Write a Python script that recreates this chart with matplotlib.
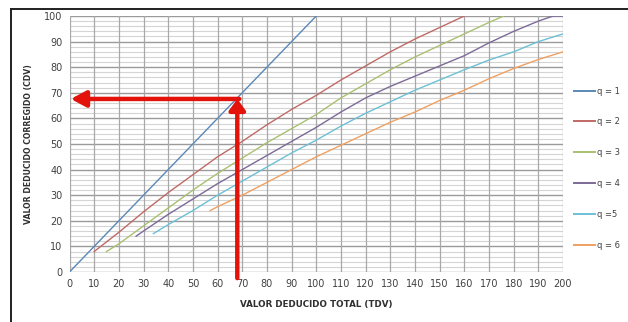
import matplotlib
matplotlib.use("Agg")
import matplotlib.pyplot as plt
from matplotlib.patches import FancyArrowPatch
from matplotlib.lines import Line2D
import numpy as np

# ---- data ----
q1_x = [0, 100]
q1_y = [0, 100]
q2_x = [10, 20, 30, 40, 50, 60, 70, 80, 90, 100, 110, 120, 130, 140, 150, 160]
q2_y = [8, 15.5, 23.5, 31, 38, 45, 51, 57.5, 63.5, 69, 75, 80.5, 86, 91, 95.5, 100]
q3_x = [15, 20, 30, 40, 50, 60, 70, 80, 90, 100, 110, 120, 130, 140, 150, 160, 170, 176]
q3_y = [8, 11, 18, 25, 32, 38.5, 44.5, 50.5, 56, 61.5, 68, 73.5, 79, 84, 88.5, 93, 97.5, 100]
q4_x = [27, 30, 40, 50, 60, 70, 80, 90, 100, 110, 120, 130, 140, 150, 160, 170, 180, 190, 196, 200]
q4_y = [14, 16, 22.5, 28.5, 34.5, 40, 45.5, 51, 56.5, 62.5, 68, 72.5, 76.5, 80.5, 84.5, 89.5, 94, 98, 100, 100]
q5_x = [34, 40, 50, 60, 70, 80, 90, 100, 110, 120, 130, 140, 150, 160, 170, 180, 190, 200]
q5_y = [15, 18.5, 24, 30, 35.5, 41, 46.5, 51.5, 57, 62, 66.5, 71, 75, 79, 82.8, 86, 90, 93]
q6_x = [57, 60, 70, 80, 90, 100, 110, 120, 130, 140, 150, 160, 170, 180, 190, 200]
q6_y = [24, 25.5, 30, 35, 40, 45, 49.5, 54, 58.5, 62.5, 67, 71, 75.5, 79.5, 83, 86]

series_labels = ["q = 1", "q = 2", "q = 3", "q = 4", "q =5", "q = 6"]
series_colors = ["#5a88b8", "#c06a66", "#a9c070", "#7d6a98", "#6cc0d6", "#f0a060"]

x_ticks = list(range(0, 201, 10))
y_ticks = list(range(0, 101, 10))

tdv_value = 68
cdv_value = 67.6

# ---- figure ----
fig = plt.figure(figsize=(6.28, 3.22), dpi=100)
ax = fig.add_axes([69.5 / 628, 1 - 272 / 322, (563 - 69.5) / 628, (272 - 16) / 322])

ax.set_xlim(0, 200)
ax.set_ylim(0, 100)

# grid
for yv in np.arange(0, 101, 2):
    major = (yv % 10 == 0)
    ax.axhline(yv, color="#9a9a9a" if major else "#d4d4d4", lw=1.0 if major else 0.8, zorder=0)
for xv in x_ticks:
    ax.axvline(xv, color="#a8a8a8", lw=0.9, zorder=0)

xs = [q1_x, q2_x, q3_x, q4_x, q5_x, q6_x]
ys = [q1_y, q2_y, q3_y, q4_y, q5_y, q6_y]
for x, y, c, l in zip(xs, ys, series_colors, series_labels):
    ax.plot(x, y, color=c, lw=1.0, label=l, zorder=3)

for s in ax.spines.values():
    s.set_visible(False)
ax.set_xticks(x_ticks)
ax.set_yticks(y_ticks)
ax.tick_params(length=0, labelsize=7, colors="#404040", pad=5)

ax.set_xlabel("VALOR DEDUCIDO TOTAL (TDV)", fontsize=6.3, fontweight="bold", color="#303030", labelpad=8)
ax.set_ylabel("VALOR DEDUCIDO CORREGIDO (CDV)", fontsize=5.6, fontweight="bold", color="#303030", labelpad=8)

# red arrows
va = FancyArrowPatch((tdv_value, -2.4), (tdv_value, cdv_value), arrowstyle="-|>,head_length=0.55,head_width=0.4",
                     mutation_scale=12, color="#e3120b", lw=3.2, zorder=6, clip_on=False,
                     shrinkA=0, shrinkB=0)
ax.add_patch(va)
ha = FancyArrowPatch((tdv_value + 0.8, cdv_value), (0.5, cdv_value), arrowstyle="-|>,head_length=0.75,head_width=0.4",
                     mutation_scale=12, color="#e3120b", lw=3.2, zorder=6, clip_on=False,
                     shrinkA=0, shrinkB=0)
ax.add_patch(ha)

# legend
handles = [Line2D([0], [0], color=c, lw=1.4) for c in series_colors]
leg = fig.legend(handles, series_labels, loc="upper left", bbox_to_anchor=(566 / 628, 1 - 79 / 322),
                 frameon=False, fontsize=6, handlelength=2.6, handletextpad=0.2, labelspacing=2.62,
                 labelcolor="#404040")

# frame
fig.add_artist(Line2D([11 / 628, 11 / 628], [0, 1 - 9 / 322], color="#202020", lw=1.4, transform=fig.transFigure))
fig.add_artist(Line2D([11 / 628, 1], [1 - 9 / 322, 1 - 9 / 322], color="#202020", lw=1.4, transform=fig.transFigure))

fig.savefig("out.png", dpi=100)
